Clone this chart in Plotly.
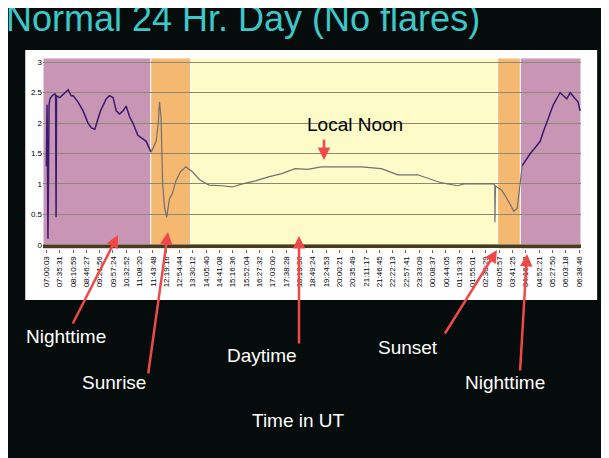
import plotly.graph_objects as go

night1_x = [0.0, 0.03, 0.07, 0.12, 0.16, 0.25, 0.38, 0.41, 0.43, 0.45, 0.60, 0.75, 0.97, 1.10, 1.19, 1.40, 1.63, 1.85, 2.0, 2.15, 2.40, 2.66, 2.80, 2.96, 3.10, 3.25, 3.40, 3.54, 3.70, 3.84, 4.06, 4.25, 4.43, 4.55, 4.65]
night1_y = [1.29, 2.3, 0.1, 2.3, 2.4, 2.45, 2.48, 2.45, 0.45, 2.45, 2.42, 2.48, 2.55, 2.45, 2.45, 2.35, 2.2, 2.0, 1.92, 1.9, 2.2, 2.4, 2.45, 2.42, 2.2, 2.15, 2.2, 2.28, 2.1, 2.0, 1.8, 1.75, 1.7, 1.6, 1.52]
day_x = [4.65, 4.87, 4.97, 5.02, 5.09, 5.16, 5.25, 5.34, 5.46, 5.60, 5.75, 5.95, 6.19, 6.48, 6.80, 7.22, 7.81, 8.25, 8.70, 9.28, 9.90, 10.45, 11.04, 11.6, 12.2, 12.8, 13.4, 13.98, 14.87, 15.6, 16.48, 17.0, 17.51, 18.25, 18.54, 19.2, 19.87, 19.90, 19.91, 19.93, 20.0, 20.2, 20.38, 20.55, 20.75, 20.9, 21.0, 21.12]
day_y = [1.52, 1.7, 2.0, 2.35, 2.1, 1.0, 0.6, 0.45, 0.75, 0.85, 1.05, 1.2, 1.28, 1.2, 1.07, 0.98, 0.97, 0.95, 1.0, 1.05, 1.12, 1.17, 1.25, 1.24, 1.28, 1.28, 1.27, 1.28, 1.25, 1.15, 1.15, 1.08, 1.02, 0.97, 1.0, 1.0, 1.0, 0.98, 0.37, 0.97, 0.95, 0.9, 0.8, 0.68, 0.55, 0.6, 0.9, 1.3]
night2_x = [21.12, 21.30, 21.48, 21.70, 21.92, 22.05, 22.21, 22.35, 22.5, 22.65, 22.8, 22.95, 23.1, 23.25, 23.35, 23.47, 23.60, 23.69]
night2_y = [1.3, 1.4, 1.5, 1.6, 1.7, 1.85, 2.0, 2.15, 2.3, 2.4, 2.5, 2.45, 2.4, 2.5, 2.45, 2.4, 2.35, 2.2]

tick_labels = ["07:00:03", "07:35:31", "08:10:59", "08:46:27", "09:21:56", "09:57:24", "10:32:52", "11:08:20",
               "11:43:48", "12:19:16", "12:54:44", "13:30:12", "14:05:40", "14:41:08", "15:16:36", "15:52:04",
               "16:27:32", "17:03:00", "17:38:28", "18:13:56", "18:49:24", "19:24:53", "20:00:21", "20:35:49",
               "21:11:17", "21:46:45", "22:22:13", "22:57:41", "23:33:09", "00:08:37", "00:44:05", "01:19:33",
               "01:55:01", "02:30:29", "03:05:57", "03:41:25", "04:16:53", "04:52:21", "05:27:50", "06:03:18",
               "06:38:46"]
tick_step_h = 2128.2 / 3600.0
tick_vals = [k * tick_step_h for k in range(len(tick_labels))]

regions = [(-0.15, 4.63, "#c896b4"), (4.63, 6.40, "#f5b870"), (6.40, 20.03, "#fdfbc8"),
           (20.03, 21.04, "#f5b870"), (21.04, 23.73, "#c896b4")]

fig = go.Figure()
fig.add_trace(go.Scatter(x=night1_x, y=night1_y, mode="lines", line=dict(color="#3a1a70", width=1.5)))
fig.add_trace(go.Scatter(x=day_x, y=day_y, mode="lines", line=dict(color="#707070", width=1.2)))
fig.add_trace(go.Scatter(x=night2_x, y=night2_y, mode="lines", line=dict(color="#3a1a70", width=1.5)))

shapes = [dict(type="rect", xref="paper", yref="paper", x0=-0.033, x1=1.03, y0=-0.267, y1=1.042,
               fillcolor="white", line_width=0, layer="below")]
for a, b, c in regions:
    shapes.append(dict(type="rect", xref="x", yref="y", x0=a, x1=b, y0=-0.07, y1=3.07,
                       fillcolor=c, line=dict(color="white", width=1), layer="below"))
shapes.append(dict(type="line", xref="x", yref="y", x0=-0.15, x1=23.73, y0=-0.03, y1=-0.03,
                   line=dict(color="#4a3a20", width=3)))

def px2paper(px, py):
    return (px - 43) / 538.0, (249 - py) / 191.0

annotations = []
tx, ty = px2paper(4, 18)
annotations.append(dict(xref="paper", yref="paper", x=tx, y=ty, text="Normal 24 Hr. Day (No flares)",
                        showarrow=False, xanchor="left", yanchor="middle",
                        font=dict(family="Liberation Sans, Arial", size=36, color="#3cc8c8")))
labels = [("Nighttime", 24, 336), ("Sunrise", 80, 382), ("Daytime", 225, 355), ("Sunset", 376, 347),
          ("Nighttime", 463, 382), ("Time in UT", 250, 420)]
for t, px, py in labels:
    x, y = px2paper(px, py)
    annotations.append(dict(xref="paper", yref="paper", x=x, y=y, text=t, showarrow=False,
                            xanchor="left", yanchor="middle",
                            font=dict(family="Liberation Sans, Arial", size=19, color="white")))
x, y = px2paper(305, 124)
annotations.append(dict(xref="paper", yref="paper", x=x, y=y, text="Local Noon", showarrow=False,
                        xanchor="left", yanchor="middle",
                        font=dict(family="Liberation Sans, Arial", size=19, color="black")))
arrows = [((72, 325), (118, 235)), ((148, 375), (168, 232)), ((299, 345), (299, 236)),
          ((444, 335), (497, 250)), ((520, 372), (527, 254)), ((324, 138), (324, 160))]
for (tx_, ty_), (hx, hy) in arrows:
    x, y = px2paper(hx, hy)
    annotations.append(dict(xref="paper", yref="paper", x=x, y=y, ax=tx_ - hx, ay=ty_ - hy,
                            axref="pixel", ayref="pixel", text="", showarrow=True,
                            arrowhead=2, arrowsize=1, arrowwidth=2.5, arrowcolor="#f04848"))

fig.update_layout(
    width=609, height=458, margin=dict(l=35, r=36, t=50, b=217),
    paper_bgcolor="#060c0c", plot_bgcolor="rgba(0,0,0,0)", showlegend=False,
    shapes=shapes, annotations=annotations,
    xaxis=dict(range=[-0.15, 23.73], tickvals=tick_vals, ticktext=tick_labels, tickangle=-90,
               tickfont=dict(family="Liberation Sans, Arial", size=8, color="black"),
               showgrid=False, zeroline=False, ticks="outside", ticklen=3, tickcolor="#666"),
    yaxis=dict(range=[-0.07, 3.07], tickvals=[0, 0.5, 1, 1.5, 2, 2.5, 3],
               ticktext=["0", "0.5", "1", "1.5", "2", "2.5", "3"],
               tickfont=dict(family="Liberation Sans, Arial", size=8, color="black"),
               showgrid=True, gridcolor="#8a8a70", gridwidth=1, zeroline=False),
)
fig.write_html("out.html")
